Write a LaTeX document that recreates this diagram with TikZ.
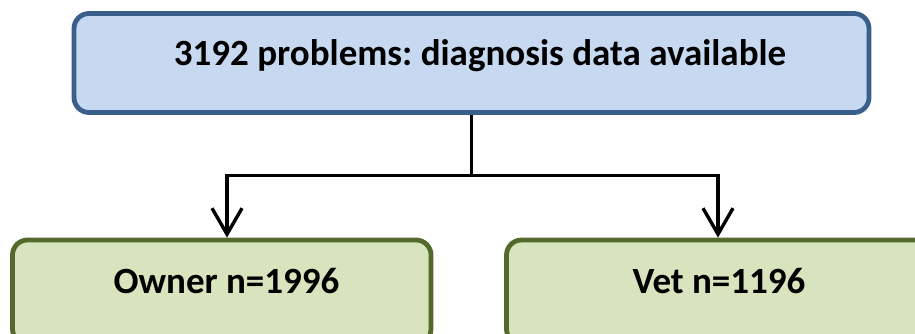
\documentclass[tikz,border=0pt]{standalone}
\usepackage{fontspec}
\setmainfont{Carlito}
\usetikzlibrary{arrows.meta}
\definecolor{topfill}{HTML}{C6D9F1}
\definecolor{topedge}{HTML}{3A5F8B}
\definecolor{leaffill}{HTML}{D7E4BD}
\definecolor{leafedge}{HTML}{546A2C}
\frenchspacing
\begin{document}
\begin{tikzpicture}[x=1pt,y=-1pt,
  box/.style={draw, line width=4.8pt, rounded corners=15pt, inner sep=0pt},
  topbox/.style={box, fill=topfill, draw=topedge},
  leafbox/.style={box, fill=leaffill, draw=leafedge},
  caption/.style={anchor=base, inner sep=0pt, text=black,
    font=\fontsize{37}{44}\selectfont\bfseries},
  link/.style={line width=3.4pt, black},
  arrowlink/.style={link, -{Straight Barb[length=26pt, width=30pt, line width=3.4pt]}}]
\useasboundingbox (0,0) rectangle (915,333);
\clip (0,0) rectangle (915,333);
% root box
\node[topbox, minimum width=795pt, minimum height=99pt] (root) at (471.5,63) {};
\node[caption] (roottext) at (480,65) {3192 problems: diagnosis data available};
% two leaf boxes, running off the lower and right edges
\node[leafbox, minimum width=418.5pt, minimum height=104pt] (owner) at (221.75,292) {};
\node[leafbox, minimum width=423.5pt, minimum height=104pt] (vet) at (718.25,292) {};
\node[caption] (ownertext) at (226.5,293) {Owner n=1996};
\node[caption] (vettext) at (719,293) {Vet n=1196};
% connectors
\coordinate (split) at (root.south |- 0,175.5);
\coordinate (lefttop) at (227,175.5);
\coordinate (righttop) at (718,175.5);
\draw[link] (root.south) -- (split);
\draw[link, line cap=rect] (lefttop) -- (righttop);
\draw[arrowlink] (lefttop) -- (lefttop |- owner.north);
\draw[arrowlink] (righttop) -- (righttop |- vet.north);
\end{tikzpicture}
\end{document}
